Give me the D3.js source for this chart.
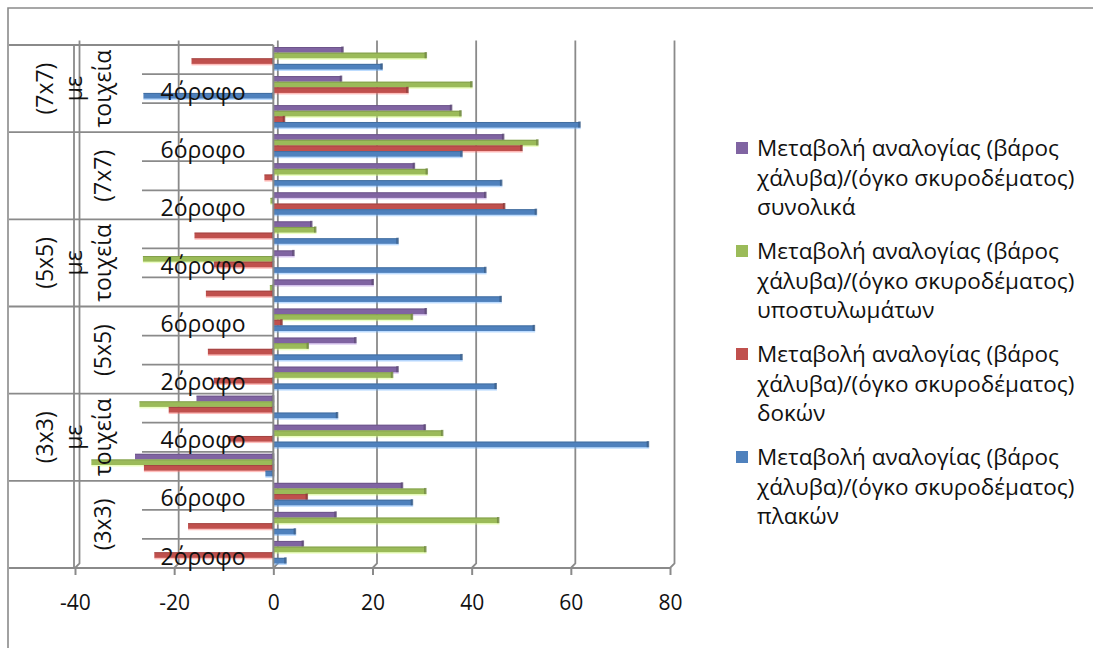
<!DOCTYPE html>
<html>
<head>
<meta charset="utf-8">
<script src="https://cdn.jsdelivr.net/npm/d3@7"></script>
<style>
  body { margin: 0; background: #fff; }
  svg { display: block; }
  text { font-family: "Open Sans", "Noto Sans", sans-serif; fill: #111; }
</style>
</head>
<body>
<svg id="chart" width="1093" height="648"></svg>
<script>
// Category hierarchy: outer group (grid / shear walls) and storeys within it
const groupLabels = ["(3x3)", "(3x3) με τοιχεία", "(5x5)", "(5x5) με τοιχεία", "(7x7)", "(7x7) με τοιχεία"];
const floorLabels = ["2όροφο", "4όροφο", "6όροφο"];

// Change of ratio (steel weight)/(concrete volume), %, one value per category (bottom to top)
const slabs   = [2.5, 4.4, 28.0, -1.6, 75.6, 12.9, 44.9, 38.0, 52.6, 45.9, 42.8, 25.1, 53.0, 46.0, 38.0, 61.8, -26.2, 21.9];
const beams   = [-24.0, -17.2, 6.8, -26.1, -9.0, -21.1, -12.0, -13.2, 1.7, -13.6, -12.0, -15.9, 46.6, -1.8, 50.1, 2.2, 27.1, -16.5];
const columns = [30.7, 45.4, 30.7, -36.7, 34.1, -27.0, 24.0, 7.0, 28.0, -0.7, -26.3, 8.5, -0.6, 31.0, 53.3, 37.8, 40.0, 30.8];
const totals  = [6.0, 12.6, 26.0, -27.9, 30.6, -15.5, 25.1, 16.6, 30.8, 20.1, 4.1, 7.7, 42.8, 28.4, 46.4, 35.9, 13.7, 14.0];

const xTicks = [-40, -20, 0, 20, 40, 60, 80];

const legendLines = [
  ["Μεταβολή αναλογίας (βάρος", "χάλυβα)/(όγκο σκυροδέματος)", "συνολικά"],
  ["Μεταβολή αναλογίας (βάρος", "χάλυβα)/(όγκο σκυροδέματος)", "υποστυλωμάτων"],
  ["Μεταβολή αναλογίας (βάρος", "χάλυβα)/(όγκο σκυροδέματος)", "δοκών"],
  ["Μεταβολή αναλογίας (βάρος", "χάλυβα)/(όγκο σκυροδέματος)", "πλακών"]
];
const seriesColors = ["#8064A2", "#9BBB59", "#C0504D", "#4F81BD"];

// Series in drawing order (top bar of each cluster first)
const series = [
  { key: "totals", values: totals, color: seriesColors[0] },
  { key: "columns", values: columns, color: seriesColors[1] },
  { key: "beams", values: beams, color: seriesColors[2] },
  { key: "slabs", values: slabs, color: seriesColors[3] }
];

const svg = d3.select("#chart");
const gridColor = "#8a8a8a";

// Layout of the 3-D plot: front plane and a shallow back wall
const plotTop = 45, plotBottom = 568;
const depthX = 4.5, depthY = -4.5;
const tableLeft = 9;

const nCat = groupLabels.length * floorLabels.length;
const x = d3.scaleLinear().domain([-40, 80]).range([75, 670]);
const y = d3.scaleBand().domain(d3.range(nCat).reverse()).range([plotTop, plotBottom]);
const inner = d3.scaleBand().domain(series.map(s => s.key)).range([2, 24.5]);

// Outer chart frame
svg.append("path")
  .attr("d", `M${tableLeft - 1},648 V8 H1093`)
  .attr("fill", "none").attr("stroke", gridColor).attr("stroke-width", 1.6);

// Back-wall gridlines with the floor diagonal
const grid = svg.append("g");
xTicks.forEach(v => {
  const xf = x(v);
  grid.append("path")
    .attr("d", `M${xf + depthX},${plotTop + depthY} V${plotBottom + depthY} L${xf},${plotBottom}`)
    .attr("fill", "none").attr("stroke", gridColor).attr("stroke-width", 1.8);
});

// Multi-level category table on the left
const table = svg.append("g").attr("stroke", gridColor).attr("stroke-width", 1.8).attr("fill", "none");
const x0 = x(0);
table.append("line").attr("x1", tableLeft).attr("x2", x0).attr("y1", plotTop).attr("y2", plotTop);
table.append("line").attr("x1", 74).attr("x2", 74).attr("y1", plotTop).attr("y2", plotBottom);
for (let g = 1; g < groupLabels.length; g++) {
  // boundary between the top storey of group g-1 and the bottom storey of group g
  const yy = y(g * floorLabels.length - 1);
  table.append("line").attr("x1", tableLeft).attr("x2", x0).attr("y1", yy).attr("y2", yy);
}
for (let i = 0; i < nCat; i++) {
  if (i % floorLabels.length === 0) continue;
  const yy = y(i) + y.bandwidth();
  table.append("line").attr("x1", 142).attr("x2", x0).attr("y1", yy).attr("y2", yy);
}

// Bars
const bars = svg.append("g");
series.forEach(s => {
  const dark = d3.color(s.color).darker(0.9).formatHex();
  const light = d3.color(s.color).brighter(0.9).formatHex();
  s.values.forEach((v, i) => {
    const yTop = y(i) + inner(s.key);
    const h = inner.bandwidth();
    const xa = Math.min(x(0), x(v)), xb = Math.max(x(0), x(v));
    // soft shadow under the bar
    bars.append("rect")
      .attr("x", xa).attr("y", yTop + h - 0.5).attr("width", xb - xa + 1).attr("height", 2)
      .attr("fill", light).attr("opacity", 0.45);
    bars.append("rect")
      .attr("x", xa).attr("y", yTop).attr("width", xb - xa).attr("height", h)
      .attr("fill", s.color);
    // top face edge
    bars.append("rect")
      .attr("x", xa).attr("y", yTop).attr("width", xb - xa).attr("height", 1)
      .attr("fill", dark).attr("opacity", 0.55);
    // end face
    bars.append("rect")
      .attr("x", xb - 1.5).attr("y", yTop - 0.5).attr("width", 2.5).attr("height", h + 0.5)
      .attr("fill", dark).attr("opacity", 0.8);
  });
});

// Front category axis at zero and floor front edge
svg.append("line").attr("x1", x0).attr("x2", x0).attr("y1", plotTop).attr("y2", plotBottom)
  .attr("stroke", gridColor).attr("stroke-width", 2);
svg.append("line").attr("x1", tableLeft).attr("x2", x(80)).attr("y1", plotBottom).attr("y2", plotBottom)
  .attr("stroke", gridColor).attr("stroke-width", 2);

// Value axis ticks and labels
const xAxis = d3.axisBottom(x).tickValues(xTicks).tickSize(7).tickPadding(20).tickFormat(d => String(d));
const axisG = svg.append("g").attr("transform", `translate(0,${plotBottom})`).call(xAxis);
axisG.select(".domain").remove();
axisG.selectAll(".tick line").attr("stroke", gridColor).attr("stroke-width", 2);
axisG.selectAll(".tick text").style("font-size", "21px").style("font-family", "\"Open Sans\", sans-serif").attr("fill", "#111");

// Storey labels (every other category, as space allows)
const labels = svg.append("g");
for (let i = 0; i < nCat; i += 2) {
  labels.append("text")
    .attr("x", 203).attr("y", y(i) + y.bandwidth() / 2 + 3)
    .attr("dy", "0.35em").attr("text-anchor", "middle")
    .style("font-size", "23px")
    .text(floorLabels[i % floorLabels.length]);
}

// Group labels, rotated and wrapped word by word
groupLabels.forEach((lab, g) => {
  const words = lab.split(" ");
  const yc = y(g * floorLabels.length + 2) + (y.bandwidth() * floorLabels.length) / 2;
  words.forEach((w, k) => {
    const xc = 103 - (words.length - 1 - k) * 29;
    labels.append("text")
      .attr("transform", `translate(${xc},${yc}) rotate(-90)`)
      .attr("dy", "0.35em").attr("text-anchor", "middle")
      .style("font-size", "23px")
      .text(w);
  });
});

// Legend
const legend = svg.append("g");
legendLines.forEach((lines, k) => {
  const y0 = 148 + k * 103;
  legend.append("rect").attr("x", 736).attr("y", y0 - 6).attr("width", 12).attr("height", 12)
    .attr("fill", seriesColors[k]);
  lines.forEach((t, j) => {
    legend.append("text").attr("x", 757).attr("y", y0 + j * 29.7).attr("dy", "0.35em")
      .style("font-size", "22.5px").text(t);
  });
});
</script>
</body>
</html>
